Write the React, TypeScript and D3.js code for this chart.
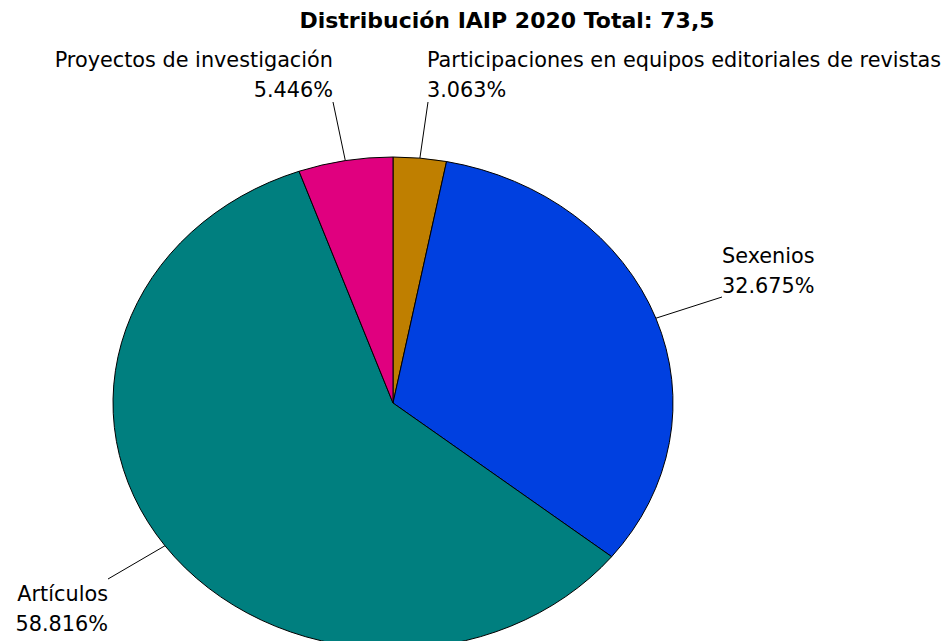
import React from "react";
import * as d3 from "d3";

const categories = [
  "Participaciones en equipos editoriales de revistas",
  "Sexenios",
  "Artículos",
  "Proyectos de investigación",
];
const percents = [3.063, 32.675, 58.816, 5.446];
const colors = ["#BF7F00", "#0040E0", "#007F7F", "#E0007F"];
const title = "Distribución IAIP 2020 Total: 73,5";

// label placement (layout only)
const labelPos = [
  { x: 427, y: 67, anchor: "start", lx: 428, ly: 102 },
  { x: 722, y: 263, anchor: "start", lx: 722, ly: 297 },
  { x: 108, y: 601, anchor: "end", lx: 108, ly: 579 },
  { x: 333, y: 67, anchor: "end", lx: 333, ly: 102 },
];

const W = 946;
const H = 641;
const cx = 393;
const cy = 403;
const rx = 280;
const ry = 246;
const FONT = "'DejaVu Sans', Verdana, Tahoma, sans-serif";

export default function App() {
  const pie = d3.pie<number>().sort(null).value((d) => d)(percents);
  const arc = d3.arc<d3.PieArcDatum<number>>().innerRadius(0).outerRadius(rx);
  const sy = ry / rx;
  return (
    <svg
      width={W}
      height={H}
      style={{ position: "absolute", left: 0, top: 0, background: "#fff" }}
    >
      <text
        x={507}
        y={28}
        textAnchor="middle"
        fontFamily={FONT}
        fontWeight="bold"
        fontSize={22}
        fill="#000"
      >
        {title}
      </text>
      <g transform={`translate(${cx},${cy}) scale(1,${sy})`}>
        {pie.map((p, i) => (
          <path
            key={i}
            d={arc(p) || ""}
            fill={colors[i]}
            stroke="#000"
            strokeWidth={1}
            vectorEffect="non-scaling-stroke"
          />
        ))}
      </g>
      {pie.map((p, i) => {
        const mid = (p.startAngle + p.endAngle) / 2;
        const ex = cx + Math.sin(mid) * rx;
        const ey = cy - Math.cos(mid) * ry;
        const L = labelPos[i];
        return (
          <g key={i}>
            <line x1={ex} y1={ey} x2={L.lx} y2={L.ly} stroke="#000" strokeWidth={1} />
            <text
              x={L.x}
              y={L.y}
              textAnchor={L.anchor}
              fontFamily={FONT}
              fontSize={20.8}
              fill="#000"
            >
              <tspan x={L.x}>{categories[i]}</tspan>
              <tspan x={L.x} dy={30}>{percents[i].toFixed(3) + "%"}</tspan>
            </text>
          </g>
        );
      })}
    </svg>
  );
}
